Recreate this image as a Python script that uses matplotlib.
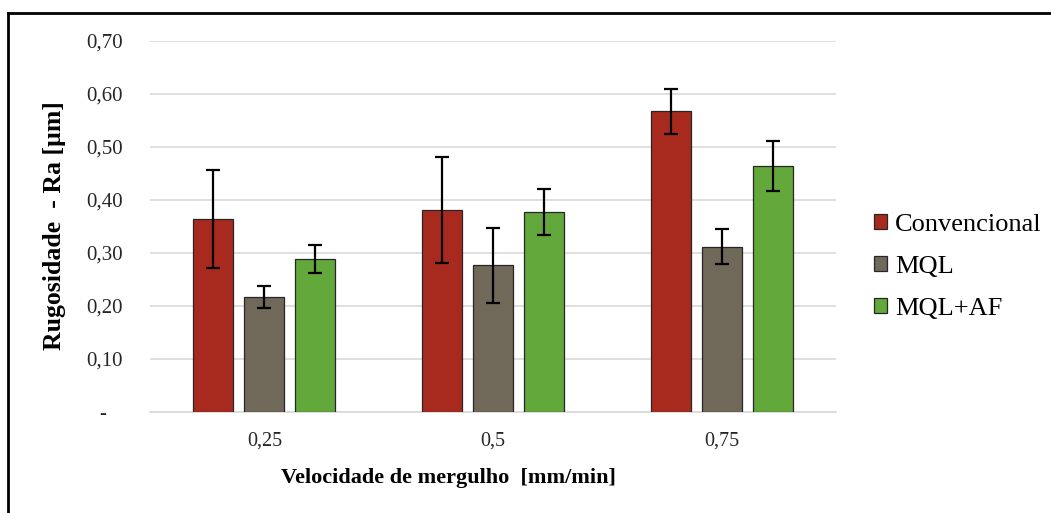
import matplotlib.pyplot as plt
import numpy as np
from matplotlib.lines import Line2D

plt.rcParams['font.family'] = ['Liberation Serif', 'DejaVu Serif']

categorias = ['0,25', '0,5', '0,75']
series = ['Convencional', 'MQL', 'MQL+AF']
convencional = [0.364, 0.382, 0.567]
mql = [0.217, 0.277, 0.312]
mql_af = [0.289, 0.377, 0.464]
err_convencional = [0.093, 0.100, 0.043]
err_mql = [0.020, 0.071, 0.033]
err_mql_af = [0.026, 0.043, 0.047]
yticks = [0.0, 0.1, 0.2, 0.3, 0.4, 0.5, 0.6, 0.7]
ytick_labels = ['-   ', '0,10', '0,20', '0,30', '0,40', '0,50', '0,60', '0,70']

cores = ['#A82A1F', '#706859', '#63A83B']
valores = [convencional, mql, mql_af]
erros = [err_convencional, err_mql, err_mql_af]

W, H = 1051, 513
fig = plt.figure(figsize=(W / 100, H / 100), dpi=100, facecolor='w')
ax = fig.add_axes([150 / W, 1 - 412 / H, 686 / W, 371 / H])

x = np.arange(len(categorias))
width = 0.175
offset = 0.223
for i, (vals, errs, c, nome) in enumerate(zip(valores, erros, cores, series)):
    ax.bar(x + (i - 1) * offset, vals, width, color=c, edgecolor='#262626',
           linewidth=0.9, label=nome, zorder=3)
    ax.errorbar(x + (i - 1) * offset, vals, yerr=errs, fmt='none',
                ecolor='black', elinewidth=1.6, capsize=5, capthick=1.6, zorder=4)

ax.set_xlim(-0.5, 2.5)
ax.set_ylim(0, 0.7)
ax.set_yticks(yticks)
ax.set_yticklabels(ytick_labels, fontsize=15)
ax.set_xticks(x)
ax.set_xticklabels(categorias, fontsize=14.5)
ax.yaxis.grid(True, color='#D9D9D9', linewidth=1.2, zorder=0)
ax.set_axisbelow(True)
for s in ['top', 'right', 'left']:
    ax.spines[s].set_visible(False)
ax.spines['bottom'].set_color('#D9D9D9')
ax.spines['bottom'].set_linewidth(1.2)
ax.tick_params(axis='both', length=0, colors='#262626')
ax.tick_params(axis='y', pad=19.5)
ax.tick_params(axis='x', pad=14)

fig.text(55 / W, 1 - 226 / H, 'Rugosidade  - Ra [µm]', rotation=90,
         fontsize=18.5, fontweight='bold', ha='center', va='center')
fig.text(448 / W, 1 - 478 / H, 'Velocidade de mergulho  [mm/min]',
         fontsize=16, fontweight='bold', ha='center', va='center')

leg = ax.legend(loc='center left', bbox_to_anchor=(874 / W, 1 - 267 / H),
                bbox_transform=fig.transFigure, frameon=False,
                fontsize=19, handlelength=0.5, handleheight=0.5,
                handletextpad=0.3, labelspacing=0.75, borderaxespad=0,
                borderpad=0)

# moldura do grafico (so topo e esquerda visiveis)
fig.add_artist(Line2D([8 / W, 1], [1 - 13 / H, 1 - 13 / H],
                      transform=fig.transFigure, color='black', lw=2))
fig.add_artist(Line2D([8 / W, 8 / W], [0, 1 - 13 / H],
                      transform=fig.transFigure, color='black', lw=2))

fig.savefig('out.png', dpi=100, facecolor='w')
